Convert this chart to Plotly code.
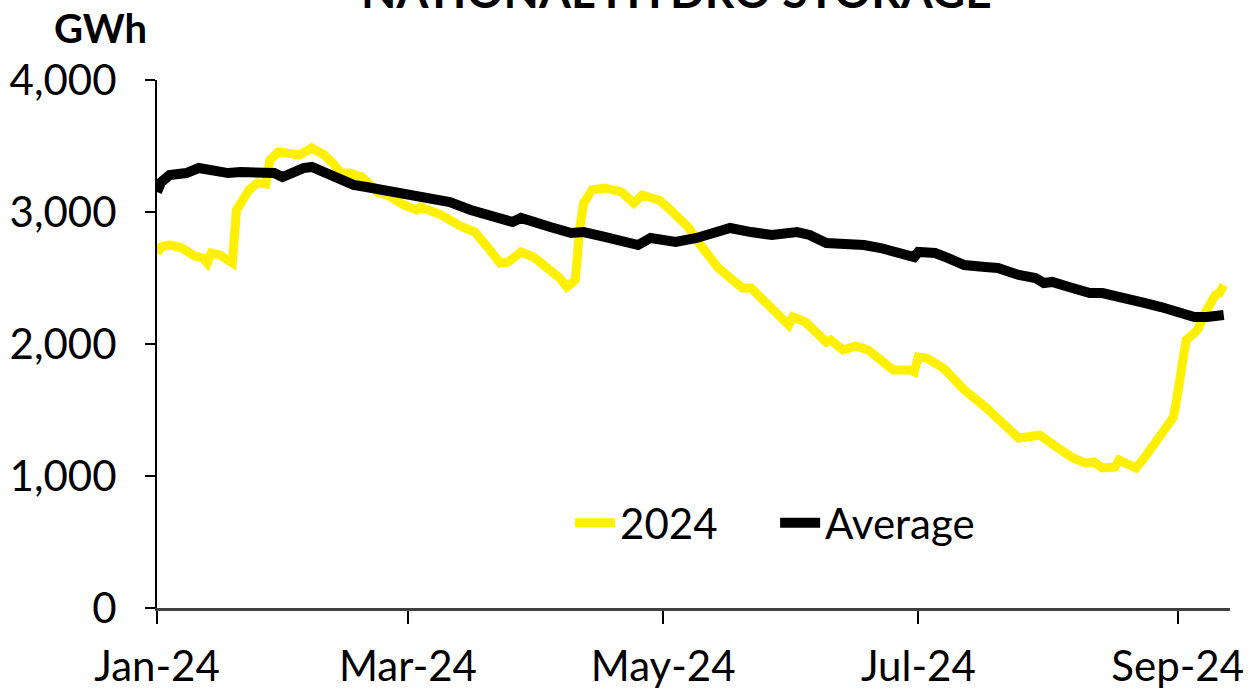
import plotly.graph_objects as go

dates_2024 = [
    "2024-01-01", "2024-01-02", "2024-01-04", "2024-01-07", "2024-01-10", "2024-01-12",
    "2024-01-13", "2024-01-14", "2024-01-16", "2024-01-19", "2024-01-20", "2024-01-21",
    "2024-01-23", "2024-01-25", "2024-01-27", "2024-01-28", "2024-01-30", "2024-02-01",
    "2024-02-04", "2024-02-07", "2024-02-10", "2024-02-12", "2024-02-14", "2024-02-16",
    "2024-02-19", "2024-02-23", "2024-02-25", "2024-02-29", "2024-03-03", "2024-03-04",
    "2024-03-09", "2024-03-14", "2024-03-17", "2024-03-20", "2024-03-23", "2024-03-25",
    "2024-03-28", "2024-03-31", "2024-04-03", "2024-04-06", "2024-04-08", "2024-04-10",
    "2024-04-11", "2024-04-12", "2024-04-14", "2024-04-17", "2024-04-21", "2024-04-24",
    "2024-04-26", "2024-04-30", "2024-05-02", "2024-05-07", "2024-05-09", "2024-05-14",
    "2024-05-17", "2024-05-20", "2024-05-22", "2024-05-27", "2024-05-31", "2024-06-01",
    "2024-06-04", "2024-06-09", "2024-06-10", "2024-06-13", "2024-06-16", "2024-06-19",
    "2024-06-23", "2024-06-25", "2024-06-29", "2024-06-30", "2024-07-01", "2024-07-03",
    "2024-07-07", "2024-07-12", "2024-07-17", "2024-07-20", "2024-07-22", "2024-07-25",
    "2024-07-27", "2024-07-30", "2024-08-03", "2024-08-07", "2024-08-10", "2024-08-12",
    "2024-08-14", "2024-08-17", "2024-08-18", "2024-08-22", "2024-08-24", "2024-08-26",
    "2024-08-28", "2024-08-31", "2024-09-01", "2024-09-02", "2024-09-03", "2024-09-05",
    "2024-09-06", "2024-09-07", "2024-09-09", "2024-09-10", "2024-09-11", "2024-09-12",
]
values_2024 = [
    2689, 2735, 2750, 2727, 2667, 2652,
    2614, 2689, 2674, 2614, 3015, 3076,
    3167, 3220, 3212, 3394, 3455, 3447,
    3432, 3485, 3432, 3371, 3295, 3295,
    3265, 3144, 3129, 3053, 3015, 3038,
    2977, 2886, 2848, 2735, 2614, 2621,
    2697, 2659, 2583, 2508, 2432, 2485,
    2864, 3068, 3167, 3182, 3152, 3068,
    3129, 3091, 3038, 2886, 2788, 2583,
    2500, 2424, 2424, 2280, 2144, 2205,
    2167, 2015, 2030, 1955, 1985, 1955,
    1864, 1803, 1803, 1788, 1902, 1894,
    1818, 1652, 1523, 1439, 1386, 1288,
    1295, 1311, 1220, 1136, 1098, 1106,
    1061, 1068, 1121, 1061, 1136, 1220,
    1295, 1447, 1629, 1879, 2030, 2083,
    2121, 2205, 2311, 2371, 2386, 2447,
]

dates_avg = [
    "2024-01-01", "2024-01-02", "2024-01-04", "2024-01-08", "2024-01-11", "2024-01-14",
    "2024-01-18", "2024-01-21", "2024-01-26", "2024-01-29", "2024-01-31", "2024-02-02",
    "2024-02-05", "2024-02-07", "2024-02-10", "2024-02-13", "2024-02-17", "2024-02-20",
    "2024-02-24", "2024-02-28", "2024-03-03", "2024-03-07", "2024-03-11", "2024-03-16",
    "2024-03-19", "2024-03-23", "2024-03-26", "2024-03-28", "2024-03-31", "2024-04-04",
    "2024-04-09", "2024-04-12", "2024-04-17", "2024-04-22", "2024-04-25", "2024-04-28",
    "2024-05-02", "2024-05-04", "2024-05-09", "2024-05-14", "2024-05-17", "2024-05-22",
    "2024-05-27", "2024-06-02", "2024-06-05", "2024-06-09", "2024-06-15", "2024-06-18",
    "2024-06-22", "2024-06-26", "2024-06-30", "2024-07-01", "2024-07-05", "2024-07-08",
    "2024-07-12", "2024-07-17", "2024-07-20", "2024-07-25", "2024-07-29", "2024-07-31",
    "2024-08-02", "2024-08-06", "2024-08-11", "2024-08-14", "2024-08-19", "2024-08-24",
    "2024-08-28", "2024-09-01", "2024-09-05", "2024-09-08", "2024-09-12",
]
values_avg = [
    3152, 3227, 3280, 3295, 3333, 3318,
    3295, 3303, 3295, 3295, 3265, 3295,
    3333, 3341, 3303, 3265, 3205, 3189,
    3167, 3144, 3129, 3106, 3076, 3015,
    2992, 2962, 2924, 2955, 2917, 2886,
    2841, 2848, 2811, 2773, 2750, 2803,
    2788, 2773, 2803, 2841, 2879, 2848,
    2826, 2848, 2826, 2765, 2765, 2750,
    2727, 2697, 2659, 2697, 2689, 2652,
    2598, 2583, 2576, 2523, 2500, 2462,
    2470, 2432, 2386, 2386, 2356, 2311,
    2280, 2235, 2205, 2205, 2220,
]

x_ticks = ["2024-01-01", "2024-03-01", "2024-05-01", "2024-07-01", "2024-09-01"]
x_tick_labels = ["Jan-24", "Mar-24", "May-24", "Jul-24", "Sep-24"]
y_ticks = [0, 1000, 2000, 3000, 4000]
y_tick_labels = ["0", "1,000", "2,000", "3,000", "4,000"]

FONT = "Lato, 'Noto Sans', sans-serif"

fig = go.Figure()
fig.add_trace(go.Scatter(
    x=dates_2024, y=values_2024, name="2024", mode="lines",
    line=dict(color="#FFF000", width=9),
))
fig.add_trace(go.Scatter(
    x=dates_avg, y=values_avg, name="Average", mode="lines",
    line=dict(color="#000000", width=10),
))

fig.update_layout(
    width=1260, height=692,
    margin=dict(l=157, r=30, t=80, b=84, autoexpand=False),
    paper_bgcolor="white", plot_bgcolor="white",
    font=dict(family=FONT, color="#000000", size=42),
    showlegend=True,
    legend=dict(
        orientation="h", x=0.385, y=0.161, xanchor="left", yanchor="middle",
        font=dict(size=42, family=FONT), bgcolor="rgba(0,0,0,0)",
        itemwidth=40, entrywidth=150, entrywidthmode="pixels", tracegroupgap=0,
    ),
    annotations=[
        dict(text="<b>NATIONAL HYDRO STORAGE</b>", xref="paper", yref="paper",
             x=0.4846, y=1.114, xanchor="center", yanchor="bottom",
             showarrow=False, font=dict(size=46, family=FONT)),
        dict(text="<b>GWh</b>", xref="paper", yref="paper",
             x=-0.053, y=1.098, xanchor="center", yanchor="middle",
             showarrow=False, font=dict(size=40, family=FONT)),
    ],
)

fig.update_xaxes(
    type="date", range=["2024-01-01", "2024-09-13 12:00"], automargin=False,
    tickmode="array", tickvals=x_ticks, ticktext=x_tick_labels,
    showgrid=False, zeroline=False,
    showline=True, linecolor="#404040", linewidth=3,
    ticks="outside", ticklen=13, tickwidth=1.5, tickcolor="#000000",
    tickfont=dict(size=42, family=FONT), ticklabelstandoff=7,
)
fig.update_yaxes(
    range=[0, 4000], automargin=False,
    tickmode="array", tickvals=y_ticks, ticktext=y_tick_labels,
    showgrid=False, zeroline=False,
    showline=True, linecolor="#000000", linewidth=2,
    ticks="outside", ticklen=10, tickwidth=1.5, tickcolor="#000000",
    tickfont=dict(size=42, family=FONT), ticklabelstandoff=20,
)

fig.write_html(
    "out.html",
    config={"displayModeBar": False},
    post_script="document.body.style.margin='0px';document.body.style.overflow='hidden';",
)
